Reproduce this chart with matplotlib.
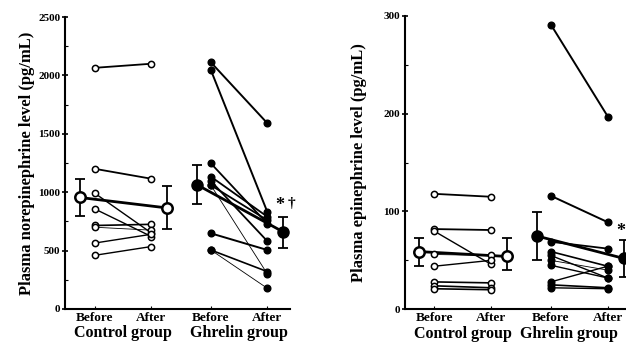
import matplotlib
matplotlib.use("Agg")
import matplotlib.pyplot as plt
from matplotlib.ticker import MultipleLocator

plt.rcParams['font.family'] = ['Liberation Serif', 'DejaVu Serif']
plt.rcParams['font.weight'] = 'bold'

# ---------------- data ----------------
tick_labels = ["Before", "After", "Before", "After"]
group_labels = ["Control group", "Ghrelin group"]

# Norepinephrine (pg/mL)
ne_ctrl_before = [2065, 1200, 990, 856, 715, 700, 565, 460]
ne_ctrl_after = [2100, 1115, 650, 620, 725, 675, 640, 535]
ne_ghr_before = [2112, 2046, 1247, 1133, 1096, 1060, 1060, 648, 505, 505]
ne_ghr_after = [1590, 830, 730, 790, 580, 300, 760, 505, 320, 177]
ne_mean = [955, 865, 1065, 660]
ne_err_lo = [800, 685, 900, 525]
ne_err_hi = [1110, 1053, 1230, 785]

# Epinephrine (pg/mL)
epi_ctrl_before = [118, 82, 80, 56, 44, 28, 24, 21]
epi_ctrl_after = [115, 81, 46, 55, 50, 27, 22, 20]
epi_ghr_before = [291, 116, 69, 59, 55, 50, 45, 28, 25, 22]
epi_ghr_after = [197, 89, 62, 44, 32, 40, 32, 44, 22, 21]
epi_mean = [59, 54, 75, 52]
epi_err_lo = [44, 40, 50, 33]
epi_err_hi = [73, 73, 99, 71]

# ---------------- styling (not data) ----------------
xpos = [1, 2, 3.05, 4.05]
mean_off = [-0.27, 0.28, -0.25, 0.28]
ne_ctrl_lw = [1.3, 1.3, 1.0, 1.0, 1.2, 0.6, 1.0, 1.0]
ne_ghr_lw = [1.4, 1.4, 1.3, 1.3, 1.3, 0.6, 1.3, 1.4, 1.2, 0.6]
epi_ctrl_lw = [1.3, 1.3, 1.0, 0.6, 1.0, 1.2, 1.2, 1.2]
epi_ghr_lw = [1.4, 1.4, 1.3, 1.2, 1.0, 0.6, 1.0, 1.0, 1.2, 1.0]

fig = plt.figure(figsize=(6.26, 3.45), dpi=100)
W, H = 626, 345


def make_ax(x0, x1, y_top, y_bot):
    return fig.add_axes([x0 / W, (H - y_bot) / H, (x1 - x0) / W, (y_bot - y_top) / H])


ax1 = make_ax(65, 290, 17, 309)
ax2 = make_ax(405, 626, 15.7, 309.3)


def draw_panel(ax, cb, ca, gb, ga, mean, lo, hi, clw, glw, ymax, major, minor, gx):
    # control individuals
    for b, a, lw in zip(cb, ca, clw):
        ax.plot([xpos[0], xpos[1]], [b, a], color='black', lw=lw, zorder=2)
    ax.plot([xpos[0]] * len(cb), cb, 'o', ms=4.5, mfc='white', mec='black', mew=1.1, ls='none', zorder=4)
    ax.plot([xpos[1]] * len(ca), ca, 'o', ms=4.5, mfc='white', mec='black', mew=1.1, ls='none', zorder=4)
    # ghrelin individuals
    for b, a, lw in zip(gb, ga, glw):
        ax.plot([xpos[2], xpos[3]], [b, a], color='black', lw=lw, zorder=2)
    ax.plot([xpos[2]] * len(gb), gb, 'o', ms=4.8, color='black', ls='none', zorder=4)
    ax.plot([xpos[3]] * len(ga), ga, 'o', ms=4.8, color='black', ls='none', zorder=4)
    # means
    mx = [p + o for p, o in zip(xpos, mean_off)]
    ax.plot(mx[0:2], mean[0:2], color='black', lw=2.0, zorder=3)
    ax.plot(mx[2:4], mean[2:4], color='black', lw=2.0, zorder=3)
    for i in range(4):
        ax.errorbar(mx[i], mean[i], yerr=[[mean[i] - lo[i]], [hi[i] - mean[i]]],
                    fmt='none', ecolor='black', elinewidth=1.3, capsize=3.5, capthick=1.3, zorder=3)
    ax.plot(mx[0:2], mean[0:2], 'o', ms=7.5, mfc='white', mec='black', mew=1.8, ls='none', zorder=5)
    ax.plot(mx[2:4], mean[2:4], 'o', ms=8, color='black', ls='none', zorder=5)

    ax.set_ylim(0, ymax)
    ax.yaxis.set_major_locator(MultipleLocator(major))
    ax.yaxis.set_minor_locator(MultipleLocator(minor))
    ax.spines['top'].set_visible(False)
    ax.spines['right'].set_visible(False)
    ax.spines['left'].set_linewidth(1.5)
    ax.spines['bottom'].set_linewidth(1.5)
    ax.tick_params(axis='y', which='major', direction='inout', length=5, width=1.2, labelsize=8, pad=1)
    ax.tick_params(axis='y', which='minor', direction='in', length=2, width=0.8)
    ax.set_xticks(xpos)
    ax.set_xticklabels(tick_labels, fontsize=9.5, fontweight='bold')
    ax.tick_params(axis='x', direction='in', length=2, width=0.8, pad=2)
    for t in ax.get_yticklabels():
        t.set_fontweight('bold')
    for lbl, x in zip(group_labels, gx):
        ax.text(x, -0.083, lbl, transform=ax.get_xaxis_transform(),
                ha='center', va='center', fontsize=11.5, fontweight='bold')


draw_panel(ax1, ne_ctrl_before, ne_ctrl_after, ne_ghr_before, ne_ghr_after,
           ne_mean, ne_err_lo, ne_err_hi, ne_ctrl_lw, ne_ghr_lw, 2500, 500, 250,
           [(xpos[0] + xpos[1]) / 2, (xpos[2] + xpos[3]) / 2])
ax1.set_xlim(0.47, 4.45)
ax1.set_ylabel("Plasma norepinephrine level (pg/mL)", fontsize=12, fontweight='bold', labelpad=2)
ax1.text(4.27, 885, "*", ha='center', va='center', fontsize=13, fontweight='bold')
ax1.text(4.47, 905, "\u2020", ha='center', va='center', fontsize=11, fontweight='bold', clip_on=False)

draw_panel(ax2, epi_ctrl_before, epi_ctrl_after, epi_ghr_before, epi_ghr_after,
           epi_mean, epi_err_lo, epi_err_hi, epi_ctrl_lw, epi_ghr_lw, 300, 100, 50,
           [(xpos[0] + xpos[1]) / 2, 3.36])
ax2.set_xlim(0.49, 4.37)
ax2.set_ylabel("Plasma epinephrine level (pg/mL)", fontsize=12, fontweight='bold', labelpad=12)
ax2.text(4.28, 79, "*", ha='center', va='center', fontsize=13, fontweight='bold', clip_on=False)

fig.savefig("out.png", dpi=100)
